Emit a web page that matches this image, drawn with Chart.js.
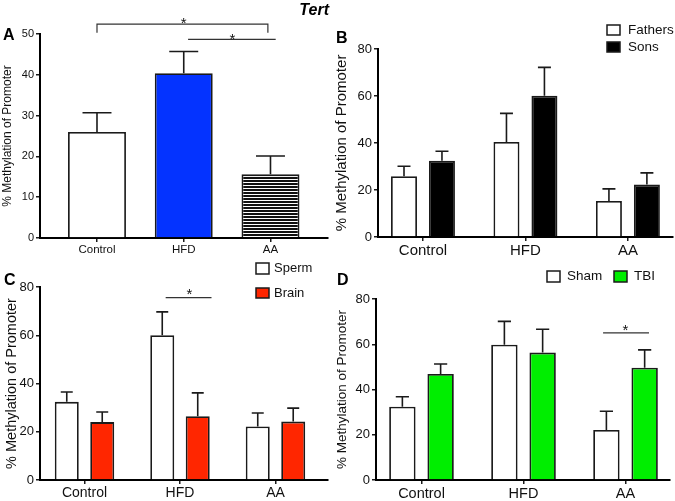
<!DOCTYPE html>
<html><head><meta charset="utf-8">
<script src="https://cdn.jsdelivr.net/npm/chart.js@4.4.1/dist/chart.umd.min.js"></script>
<style>
html,body{margin:0;padding:0;background:#fff;}
#wrap{position:relative;width:675px;height:501px;overflow:hidden;background:#fff;}
canvas{position:absolute;left:0;top:0;}
</style></head><body>
<div id="wrap">
<canvas id="cA" width="675" height="501"></canvas>
<canvas id="cB" width="675" height="501"></canvas>
<canvas id="cC" width="675" height="501"></canvas>
<canvas id="cD" width="675" height="501"></canvas>
</div>
<script>
// ---------- data ----------
const categories = ['Control', 'HFD', 'AA'];
const yTicksA = [0, 10, 20, 30, 40, 50];
const yTicksBCD = [0, 20, 40, 60, 80];

// Panel A (single series)
const aMeans = [26.0, 40.4, 15.6];
const aErr   = [4.7, 5.3, 4.5];
// Panel B
const bFathers    = [25.9, 40.4, 15.3];
const bFathersErr = [4.2, 12.2, 5.2];
const bSons       = [32.4, 60.1, 22.3];
const bSonsErr    = [4.1, 12.1, 5.0];
// Panel C
const cSperm    = [32.4, 60.0, 22.2];
const cSpermErr = [4.1, 9.7, 5.6];
const cBrain    = [24.0, 26.4, 24.2];
const cBrainErr = [4.2, 9.7, 5.6];
// Panel D
const dSham    = [32.4, 59.8, 22.1];
const dShamErr = [4.4, 10.3, 8.3];
const dTBI     = [46.9, 56.3, 49.6];
const dTBIErr  = [4.4, 10.3, 7.9];

// ---------- helpers ----------
const FONT = "'Liberation Sans', Arial, sans-serif";
const INK = '#1a1a1a';

function stripePattern() {
  const c = document.createElement('canvas');
  c.width = 4; c.height = 3;
  const g = c.getContext('2d');
  g.fillStyle = '#ffffff'; g.fillRect(0, 0, 4, 3);
  g.fillStyle = '#111111'; g.fillRect(0, 0, 4, 2);
  return g.createPattern(c, 'repeat');
}

const errPlugin = {
  id: 'errbars',
  afterDatasetsDraw(chart) {
    const g = chart.ctx, ys = chart.scales.y;
    g.save();
    g.strokeStyle = INK; g.lineWidth = 1.6;
    chart.data.datasets.forEach((ds, di) => {
      const meta = chart.getDatasetMeta(di);
      meta.data.forEach((el, i) => {
        const v = ds.data[i].y, e = ds.errors[i];
        const yt = ys.getPixelForValue(v + e);
        const w = el.width / 4;
        g.beginPath();
        g.moveTo(el.x, el.y); g.lineTo(el.x, yt);
        g.moveTo(el.x - w, yt); g.lineTo(el.x + w, yt);
        g.stroke();
      });
    });
    g.restore();
  }
};

function annotPlugin(p) {
  return {
    id: 'annot',
    afterDraw(chart) {
      const g = chart.ctx, xs = chart.scales.x, ys = chart.scales.y;
      g.save();
      g.fillStyle = '#000';
      g.font = 'bold 16px ' + FONT;
      g.textAlign = 'left'; g.textBaseline = 'alphabetic';
      g.fillText(p.letter.text, p.letter.x, p.letter.y);
      if (p.extra) {
        g.font = p.extra.font;
        g.textAlign = p.extra.align;
        g.fillText(p.extra.text, p.extra.x, p.extra.y);
      }
      (p.sig || []).forEach(s => {
        g.strokeStyle = '#333'; g.lineWidth = 1.2;
        const x1 = xs.getPixelForValue(s.x1), x2 = xs.getPixelForValue(s.x2);
        const y = ys.getPixelForValue(s.y);
        g.beginPath();
        if (s.drop !== undefined) {
          const yd = ys.getPixelForValue(s.drop);
          g.moveTo(x1, yd); g.lineTo(x1, y); g.lineTo(x2, y); g.lineTo(x2, yd);
        } else {
          g.moveTo(x1, y); g.lineTo(x2, y);
        }
        g.stroke();
        const fs = p.starSize;
        g.font = fs + 'px ' + FONT;
        g.fillStyle = '#111';
        g.textAlign = 'center'; g.textBaseline = 'alphabetic';
        g.fillText('*', xs.getPixelForValue(s.sx), ys.getPixelForValue(s.sy) + 0.57 * fs);
      });
      (p.legend || []).forEach(l => {
        g.fillStyle = l.color;
        g.fillRect(l.bx, l.by, l.bw, l.bh);
        g.strokeStyle = INK; g.lineWidth = 1.5;
        g.strokeRect(l.bx, l.by, l.bw, l.bh);
        g.fillStyle = '#111';
        g.font = p.legendSize + 'px ' + FONT;
        g.textAlign = 'left'; g.textBaseline = 'middle';
        g.fillText(l.label, l.tx, l.ty);
      });
      g.restore();
    }
  };
}

function makeChart(id, p) {
  return new Chart(document.getElementById(id), {
    type: 'bar',
    data: {
      datasets: p.series.map(s => ({
        label: s.label,
        data: s.values.map((v, i) => ({ x: i, y: v })),
        errors: s.errors,
        backgroundColor: s.color,
        borderColor: INK,
        borderWidth: 1.8,
        categoryPercentage: p.catPct,
        barPercentage: p.barPct
      }))
    },
    options: {
      responsive: false, animation: false, devicePixelRatio: 1,
      layout: { padding: { left: p.L - p.yW, right: 675 - p.R, top: p.T, bottom: 501 - p.B - p.xH } },
      plugins: { legend: { display: false }, tooltip: { enabled: false } },
      scales: {
        x: {
          type: 'linear', min: p.xMin, max: p.xMax, offset: false,
          afterBuildTicks: s => { s.ticks = categories.map((c, i) => ({ value: i })); },
          afterFit: s => { s.height = p.xH; },
          ticks: {
            callback: v => categories[v] !== undefined ? categories[v] : '',
            color: '#111', font: { family: FONT, size: p.xFont },
            padding: p.xPad, maxRotation: 0, autoSkip: false
          },
          grid: { display: true, offset: false, drawOnChartArea: false, drawTicks: true, tickLength: 4, color: INK, lineWidth: 1.5 },
          border: { display: true, color: '#000', width: 2 }
        },
        y: {
          min: 0, max: p.yMax,
          afterBuildTicks: s => { s.ticks = p.yTicks.map(v => ({ value: v })); },
          afterFit: s => { s.width = p.yW; },
          ticks: { color: '#111', font: { family: FONT, size: p.yFont }, padding: 2 },
          grid: { display: true, drawOnChartArea: false, drawTicks: true, tickLength: 4, color: INK, lineWidth: 1.5 },
          border: { display: true, color: '#000', width: 2 },
          title: { display: true, text: '% Methylation of Promoter', color: '#111',
                   font: { family: FONT, size: p.titleSize }, padding: { top: p.titlePad, bottom: 0 } }
        }
      }
    },
    plugins: [errPlugin, annotPlugin(p)]
  });
}

// ---------- panels ----------
makeChart('cA', {
  L: 40, R: 328, T: 34, B: 238, yW: 40, xH: 20,
  xMin: -0.657, xMax: 2.663, yMax: 50, yTicks: yTicksA,
  catPct: 0.8, barPct: 0.835,
  xFont: 11.5, yFont: 11, xPad: 1, titleSize: 12, titlePad: 0,
  series: [{ label: 'Tert', values: aMeans, errors: aErr, color: ['#ffffff', '#0433ff', stripePattern()] }],
  letter: { text: 'A', x: 3, y: 40 },
  extra: { text: 'Tert', font: 'italic bold 16px ' + FONT, align: 'right', x: 329, y: 15 },
  starSize: 15,
  sig: [
    { x1: 0, x2: 1.97, y: 52.4, drop: 50.3, sx: 1.0, sy: 53.6 },
    { x1: 1.05, x2: 2.06, y: 48.7, sx: 1.56, sy: 49.6 }
  ]
});

makeChart('cB', {
  L: 378, R: 673, T: 49, B: 237, yW: 45, xH: 22,
  xMin: -0.439, xMax: 2.44, yMax: 80, yTicks: yTicksBCD,
  catPct: 0.741, barPct: 0.684,
  xFont: 15, yFont: 13, xPad: 1, titleSize: 15, titlePad: 0,
  series: [
    { label: 'Fathers', values: bFathers, errors: bFathersErr, color: '#ffffff' },
    { label: 'Sons', values: bSons, errors: bSonsErr, color: '#000000' }
  ],
  letter: { text: 'B', x: 336, y: 43 },
  legendSize: 13.5,
  legend: [
    { label: 'Fathers', color: '#ffffff', bx: 607, by: 25, bw: 13, bh: 10, tx: 628, ty: 30 },
    { label: 'Sons', color: '#000000', bx: 607, by: 42, bw: 13, bh: 10, tx: 628, ty: 47 }
  ]
});

makeChart('cC', {
  L: 40, R: 328, T: 287, B: 480, yW: 40, xH: 21,
  xMin: -0.466, xMax: 2.55, yMax: 80, yTicks: yTicksBCD,
  catPct: 0.743, barPct: 0.676,
  xFont: 14, yFont: 13, xPad: 1, titleSize: 14.5, titlePad: 3.5,
  series: [
    { label: 'Sperm', values: cSperm, errors: cSpermErr, color: '#ffffff' },
    { label: 'Brain', values: cBrain, errors: cBrainErr, color: '#ff2600' }
  ],
  letter: { text: 'C', x: 4, y: 285 },
  legendSize: 13,
  legend: [
    { label: 'Sperm', color: '#ffffff', bx: 256, by: 263, bw: 13, bh: 11, tx: 274, ty: 268.5 },
    { label: 'Brain', color: '#ff2600', bx: 256, by: 288, bw: 13, bh: 10, tx: 274, ty: 293 }
  ],
  starSize: 15,
  sig: [{ x1: 0.85, x2: 1.33, y: 75.6, sx: 1.10, sy: 78.5 }]
});

makeChart('cD', {
  L: 376, R: 670, T: 299, B: 480, yW: 45, xH: 21,
  xMin: -0.446, xMax: 2.436, yMax: 80, yTicks: yTicksBCD,
  catPct: 0.75, barPct: 0.69,
  xFont: 14.5, yFont: 13, xPad: 1, titleSize: 13.5, titlePad: 3.5,
  series: [
    { label: 'Sham', values: dSham, errors: dShamErr, color: '#ffffff' },
    { label: 'TBI', values: dTBI, errors: dTBIErr, color: '#00ee00' }
  ],
  letter: { text: 'D', x: 337, y: 285 },
  legendSize: 13.5,
  legend: [
    { label: 'Sham', color: '#ffffff', bx: 547, by: 271, bw: 13, bh: 11, tx: 567, ty: 276.5 },
    { label: 'TBI', color: '#00ee00', bx: 614, by: 271, bw: 13, bh: 11, tx: 634, ty: 276.5 }
  ],
  starSize: 15,
  sig: [{ x1: 1.78, x2: 2.23, y: 65, sx: 2.0, sy: 68 }]
});
</script>
</body></html>
